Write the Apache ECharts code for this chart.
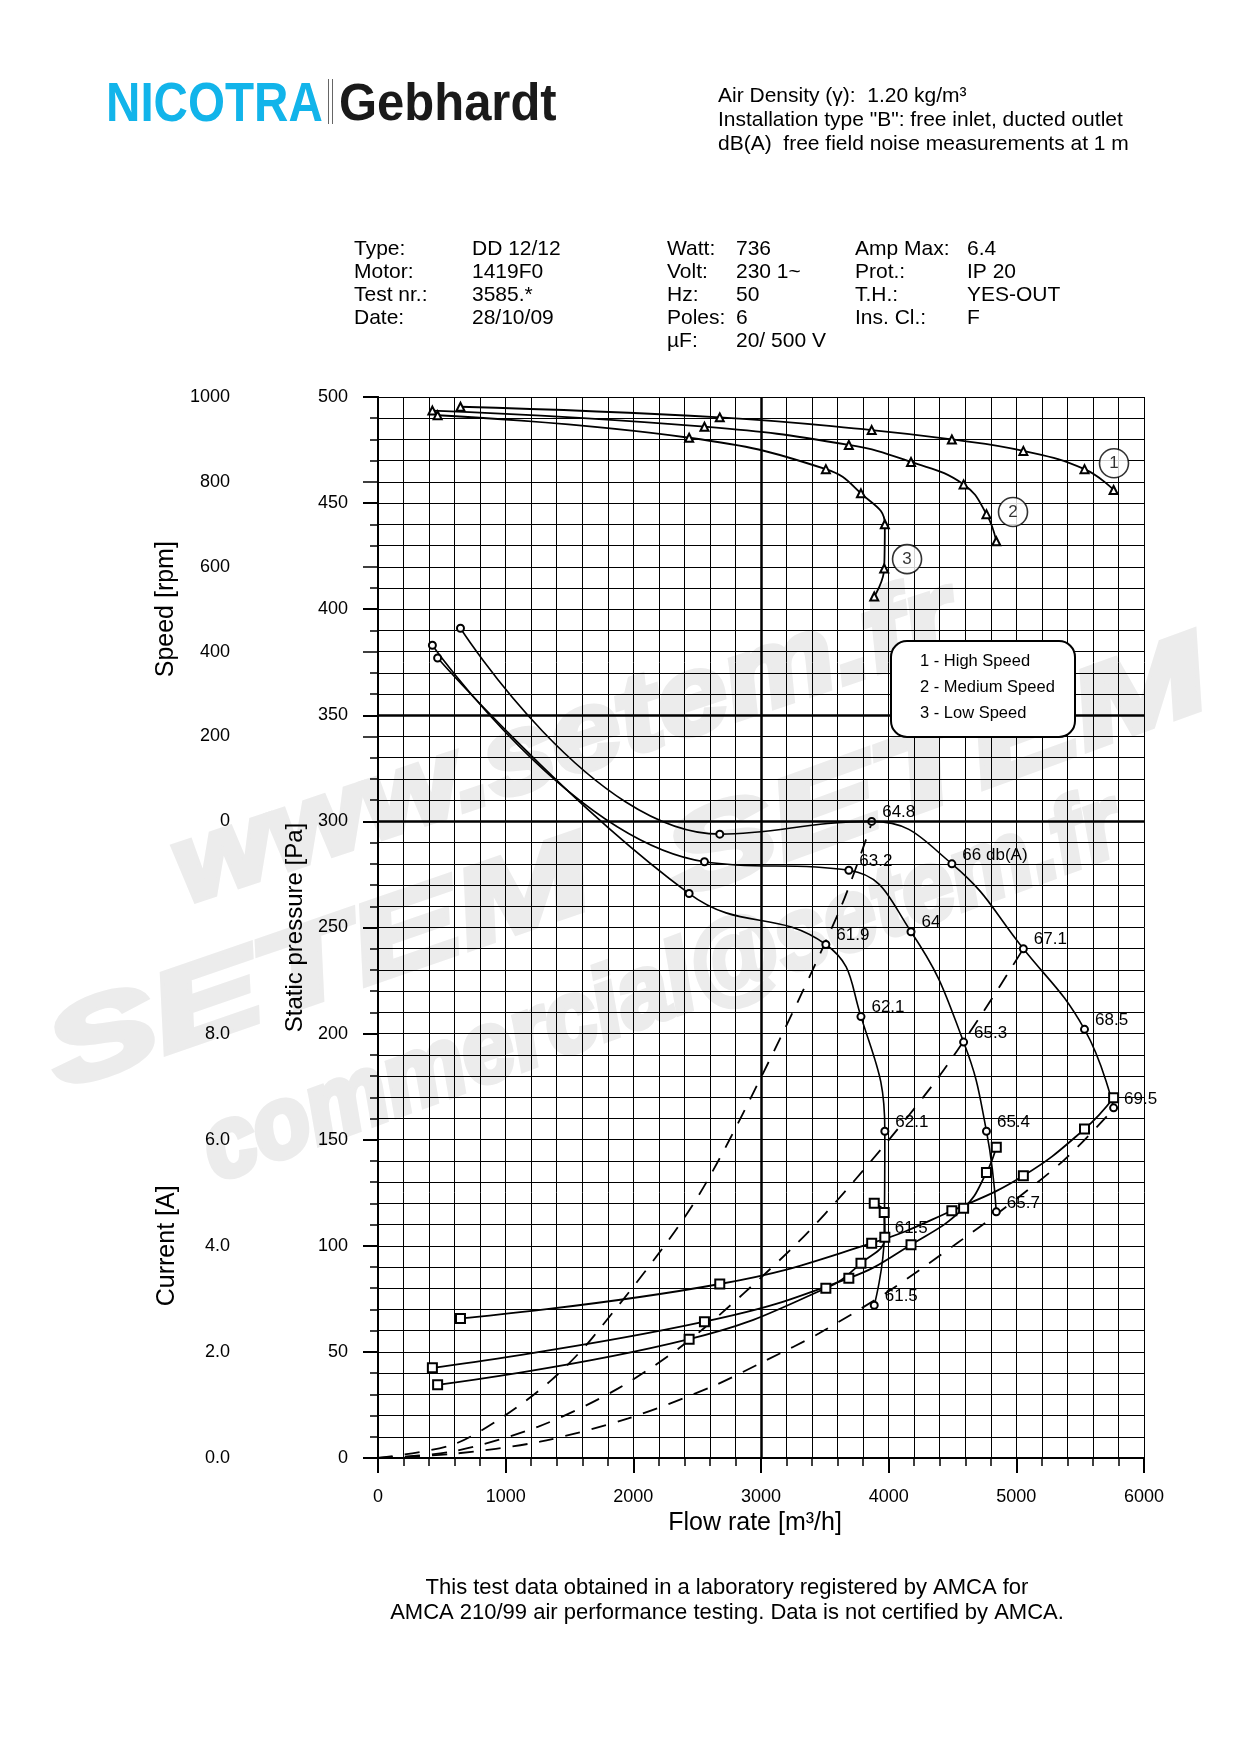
<!DOCTYPE html>
<html>
<head>
<meta charset="utf-8">
<title>DD 12/12 - fan curves</title>
<script src="https://cdn.jsdelivr.net/npm/echarts@6.0.0/dist/echarts.min.js"></script>
<style>
  html, body { margin: 0; padding: 0; background: #fff; }
  #chart { width: 1241px; height: 1755px; }
</style>
</head>
<body>
<div id="chart"></div>
<script>
// flow rate [m3/h] of the test points, one array per speed
var flowHigh = [646, 2677, 3867, 4495, 5055, 5534, 5762];
var flowMed = [426, 2557, 3688, 4175, 4587, 4766, 4843];
var flowLow = [467, 2437, 3508, 3783, 3970, 3965, 3887];

// static pressure [Pa]
var pressHigh = [391, 294, 300, 280, 240, 202, 165];
var pressMed = [383, 281, 277, 248, 196, 154, 116];
var pressLow = [377, 266, 242, 208, 154, 104, 72];

// noise dB(A) written next to the pressure points
var dbHigh = ['', '', '64.8', '66 db(A)', '67.1', '68.5', '69.5'];
var dbMed = ['', '', '63.2', '64', '65.3', '65.4', '65.7'];
var dbLow = ['', '', '61.9', '62.1', '62.1', '61.5', '61.5'];

// speed [rpm]
var rpmHigh = [977, 952, 922, 900, 873, 830, 781];
var rpmMed = [968, 930, 887, 847, 794, 724, 660];
var rpmLow = [957, 904, 830, 773, 700, 596, 530];

// current [A]
var ampHigh = [2.63, 3.28, 4.05, 4.66, 5.32, 6.20, 6.79];
var ampMed = [1.70, 2.57, 3.39, 4.02, 4.71, 5.38, 5.86];
var ampLow = [1.38, 2.24, 3.20, 3.67, 4.16, 4.63, 4.80];

// system curves (dashed)
var sysFlowA = [0, 577, 982, 1360, 1687, 2456, 3016, 3616, 3860];
var sysPressA = [0, 6.1, 19.5, 36.8, 57.2, 118.4, 181.3, 258.2, 298];
var sysFlowB = [0, 577, 1256, 1882, 2457, 3256, 3736, 4335, 4734, 5055];
var sysPressB = [0, 3.0, 14.8, 32.8, 56.4, 99.6, 131, 175, 209.6, 240];
var sysFlowC = [0, 577, 1269, 1961, 2614, 3045, 3456, 4015, 4535, 4855, 5374, 5754];
var sysPressC = [0, 1.9, 7.7, 18.7, 33.6, 46.2, 58.8, 79.2, 101.2, 115.3, 140.4, 164];

// numbered tags at the end of the speed curves
var tagText = ['1', '2', '3'];
var tagFlow = [5765, 4974, 4144];
var tagRpm = [844, 729, 618];

var legendLines = ['1 - High Speed', '2 - Medium Speed', '3 - Low Speed'];

var FONT = '"Liberation Sans", Arial, sans-serif';

function pairs(xs, ys) {
  return xs.map(function (x, i) { return [x, ys[i]]; });
}

var chart = echarts.init(document.getElementById('chart'), null, { renderer: 'canvas' });

var labelStyle = { color: '#000', fontSize: 18, fontFamily: FONT };
var gridLine = { show: true, lineStyle: { color: '#000', width: 1 } };
var plain = function (v) { return String(v); };

function pressureSeries(name, flows, press, dbs) {
  return {
    name: name, type: 'line', xAxisIndex: 0, yAxisIndex: 0,
    data: pairs(flows, press), smooth: 0.45,
    symbol: 'emptyCircle', symbolSize: 7,
    itemStyle: { color: '#000', borderWidth: 1 },
    lineStyle: { color: '#000', width: 1.6 },
    label: {
      show: true, position: 'right', distance: 6, offset: [0, -9],
      color: '#000', fontSize: 17, fontFamily: FONT,
      formatter: function (p) { return dbs[p.dataIndex]; }
    },
    z: 3
  };
}

function speedSeries(name, flows, rpm) {
  return {
    name: name, type: 'line', xAxisIndex: 1, yAxisIndex: 1,
    data: pairs(flows, rpm), smooth: 0.45,
    symbol: 'emptyTriangle', symbolSize: 8,
    itemStyle: { color: '#000', borderWidth: 1 },
    lineStyle: { color: '#000', width: 1.8 },
    z: 3
  };
}

function currentSeries(name, flows, amp) {
  return {
    name: name, type: 'line', xAxisIndex: 2, yAxisIndex: 2,
    data: pairs(flows, amp), smooth: 0.45,
    symbol: 'emptyRect', symbolSize: 9,
    itemStyle: { color: '#000', borderWidth: 1.2 },
    lineStyle: { color: '#000', width: 1.8 },
    z: 3
  };
}

function systemSeries(name, flows, press) {
  return {
    name: name, type: 'line', xAxisIndex: 0, yAxisIndex: 0,
    data: pairs(flows, press), smooth: 0.3, symbol: 'none',
    lineStyle: { color: '#000', width: 1.8, type: [15, 12] },
    z: 2
  };
}

// light embossed watermark, kept under the grid
function watermark(text, cx, cy, deg, size, sx) {
  return {
    type: 'text', x: cx, y: cy, rotation: deg * Math.PI / 180,
    scaleX: sx, z: -1, silent: true,
    style: {
      text: text, font: 'italic bold ' + size + 'px ' + FONT,
      fill: '#ececec', stroke: '#ececec', lineWidth: 6, lineJoin: 'round',
      align: 'center', verticalAlign: 'middle',
      shadowColor: 'rgba(0,0,0,0.35)', shadowBlur: 3,
      shadowOffsetX: 3, shadowOffsetY: 5
    }
  };
}

function txt(x, y, s, size, extra, z) {
  var o = {
    type: 'text', x: x, y: y, z: z || 5,
    style: { text: s, font: size + 'px ' + FONT, fill: '#000', verticalAlign: 'middle' }
  };
  if (extra) Object.assign(o.style, extra);
  return o;
}

var infoRows = [249, 272, 295, 318, 341];
var infoCols = [
  [354, ['Type:', 'Motor:', 'Test nr.:', 'Date:']],
  [472, ['DD 12/12', '1419F0', '3585.*', '28/10/09']],
  [667, ['Watt:', 'Volt:', 'Hz:', 'Poles:', 'µF:']],
  [736, ['736', '230 1~', '50', '6', '20/ 500 V']],
  [855, ['Amp Max:', 'Prot.:', 'T.H.:', 'Ins. Cl.:']],
  [967, ['6.4', 'IP 20', 'YES-OUT', 'F']]
];
var infoTexts = [];
infoCols.forEach(function (col) {
  col[1].forEach(function (s, i) { infoTexts.push(txt(col[0], infoRows[i], s, 21)); });
});

var option = {
  animation: false,
  backgroundColor: '#fff',
  textStyle: { fontFamily: FONT },
  grid: [
    { left: 378, top: 397, width: 766, height: 1061, containLabel: false, outerBoundsMode: 'none' },
    { left: 378, top: 397, width: 766, height: 424.4, containLabel: false, outerBoundsMode: 'none' },
    { left: 378, top: 1033.6, width: 766, height: 424.4, containLabel: false, outerBoundsMode: 'none' }
  ],
  xAxis: [
    {
      gridIndex: 0, type: 'value', min: 0, max: 6000, interval: 1000,
      name: 'Flow rate [m³/h]', nameLocation: 'middle', nameGap: 53,
      nameTextStyle: { color: '#000', fontSize: 25, fontFamily: FONT, padding: [0, 12, 0, 0] },
      axisLine: { show: true, lineStyle: { color: '#000', width: 2 } },
      axisTick: { show: true, length: 15, lineStyle: { color: '#000', width: 2 } },
      minorTick: { show: true, splitNumber: 5, length: 8, lineStyle: { color: '#000', width: 1.5 } },
      axisLabel: Object.assign({ margin: 30, showMinLabel: true, showMaxLabel: true, formatter: plain }, labelStyle),
      splitLine: gridLine,
      minorSplitLine: gridLine
    },
    { gridIndex: 1, type: 'value', min: 0, max: 6000, show: false },
    { gridIndex: 2, type: 'value', min: 0, max: 6000, show: false }
  ],
  yAxis: [
    {
      gridIndex: 0, type: 'value', min: 0, max: 500, interval: 50, position: 'left',
      name: 'Static pressure [Pa]', nameLocation: 'middle', nameGap: 70,
      nameTextStyle: { color: '#000', fontSize: 24, fontFamily: FONT },
      axisLine: { show: true, lineStyle: { color: '#000', width: 2 } },
      axisTick: { show: true, length: 15, lineStyle: { color: '#000', width: 2 } },
      minorTick: { show: true, splitNumber: 5, length: 8, lineStyle: { color: '#000', width: 1.5 } },
      axisLabel: Object.assign({ margin: 30, showMinLabel: true, showMaxLabel: true, formatter: plain }, labelStyle),
      splitLine: gridLine,
      minorSplitLine: gridLine
    },
    {
      gridIndex: 1, type: 'value', min: 0, max: 1000, interval: 200, position: 'left', offset: 118,
      name: 'Speed [rpm]', nameLocation: 'middle', nameGap: 80,
      nameTextStyle: { color: '#000', fontSize: 25, fontFamily: FONT },
      axisLine: { show: true, lineStyle: { color: '#000', width: 2 } },
      axisTick: { show: true, length: 15, lineStyle: { color: '#000', width: 1.5 } },
      minorTick: { show: true, splitNumber: 4, length: 8, lineStyle: { color: '#000', width: 1.5 } },
      axisLabel: Object.assign({ margin: 30, showMinLabel: true, showMaxLabel: true, formatter: plain }, labelStyle),
      splitLine: { show: false }
    },
    {
      gridIndex: 2, type: 'value', min: 0, max: 8, interval: 2, position: 'left', offset: 118,
      name: 'Current [A]', nameLocation: 'middle', nameGap: 80,
      nameTextStyle: { color: '#000', fontSize: 25, fontFamily: FONT },
      axisLine: { show: true, lineStyle: { color: '#000', width: 2 } },
      axisTick: { show: true, length: 15, lineStyle: { color: '#000', width: 1.5 } },
      minorTick: { show: true, splitNumber: 5, length: 8, lineStyle: { color: '#000', width: 1.5 } },
      axisLabel: Object.assign({
        margin: 30, showMinLabel: true, showMaxLabel: true,
        formatter: function (v) { return v.toFixed(1); }
      }, labelStyle),
      splitLine: { show: false }
    }
  ],
  series: [
    Object.assign(systemSeries('sysA', sysFlowA, sysPressA), {
      markLine: {
        silent: true, symbol: 'none', label: { show: false },
        lineStyle: { color: '#000', width: 2.5, type: 'solid' },
        data: [{ yAxis: 300 }, { yAxis: 350 }, { xAxis: 3000 }]
      }
    }),
    systemSeries('sysB', sysFlowB, sysPressB),
    systemSeries('sysC', sysFlowC, sysPressC),
    pressureSeries('pHigh', flowHigh, pressHigh, dbHigh),
    pressureSeries('pMed', flowMed, pressMed, dbMed),
    pressureSeries('pLow', flowLow, pressLow, dbLow),
    speedSeries('nHigh', flowHigh, rpmHigh),
    speedSeries('nMed', flowMed, rpmMed),
    speedSeries('nLow', flowLow, rpmLow),
    currentSeries('iHigh', flowHigh, ampHigh),
    currentSeries('iMed', flowMed, ampMed),
    currentSeries('iLow', flowLow, ampLow),
    {
      name: 'tags', type: 'scatter', xAxisIndex: 1, yAxisIndex: 1,
      data: pairs(tagFlow, tagRpm), symbol: 'circle', symbolSize: 29,
      itemStyle: { color: '#fff', borderColor: '#000', borderWidth: 1.6 },
      label: {
        show: true, position: 'inside', color: '#000', fontSize: 17, fontFamily: FONT,
        formatter: function (p) { return tagText[p.dataIndex]; }
      },
      z: 4
    }
  ],
  graphic: [
    // watermarks
    watermark('www.setem.fr', 565, 745, 18.5, 110, 1.15),
    watermark('SETEM', 320, 968, 19, 110, 1.5),
    watermark('SETEM', 938, 772, 20, 110, 1.5),
    watermark('commercial@setem.fr', 662, 990, 20, 100, 0.93),
    // logo
    { type: 'text', x: 106, y: 106, scaleX: 0.85, z: 5,
      style: { text: 'NICOTRA', font: 'bold 56px ' + FONT, fill: '#12b4ea', verticalAlign: 'middle' } },
    { type: 'line', z: 5, shape: { x1: 328.5, y1: 79, x2: 328.5, y2: 124 }, style: { stroke: '#666', lineWidth: 1 } },
    { type: 'line', z: 5, shape: { x1: 332.5, y1: 79, x2: 332.5, y2: 124 }, style: { stroke: '#666', lineWidth: 1 } },
    { type: 'text', x: 339, y: 106, scaleX: 0.96, z: 5,
      style: { text: 'Gebhardt', font: 'bold 51px ' + FONT, fill: '#1a1a1a', verticalAlign: 'middle' } },
    // header notes
    txt(718, 96, 'Air Density (γ):  1.20 kg/m³', 21),
    txt(718, 120, 'Installation type "B": free inlet, ducted outlet', 21),
    txt(718, 144, 'dB(A)  free field noise measurements at 1 m', 21),
    // legend box, above the thick 350 Pa line
    { type: 'rect', z: 10, shape: { x: 891, y: 641, width: 184, height: 96, r: 16 },
      style: { fill: '#fff', stroke: '#000', lineWidth: 2 } },
    txt(920, 661, legendLines[0], 16.5, null, 11),
    txt(920, 687, legendLines[1], 16.5, null, 11),
    txt(920, 713, legendLines[2], 16.5, null, 11),
    // footer
    txt(727, 1588, 'This test data obtained in a laboratory registered by AMCA for', 22, { align: 'center' }),
    txt(727, 1613, 'AMCA 210/99 air performance testing. Data is not certified by AMCA.', 22, { align: 'center' })
  ].concat(infoTexts)
};

chart.setOption(option);
</script>
</body>
</html>
